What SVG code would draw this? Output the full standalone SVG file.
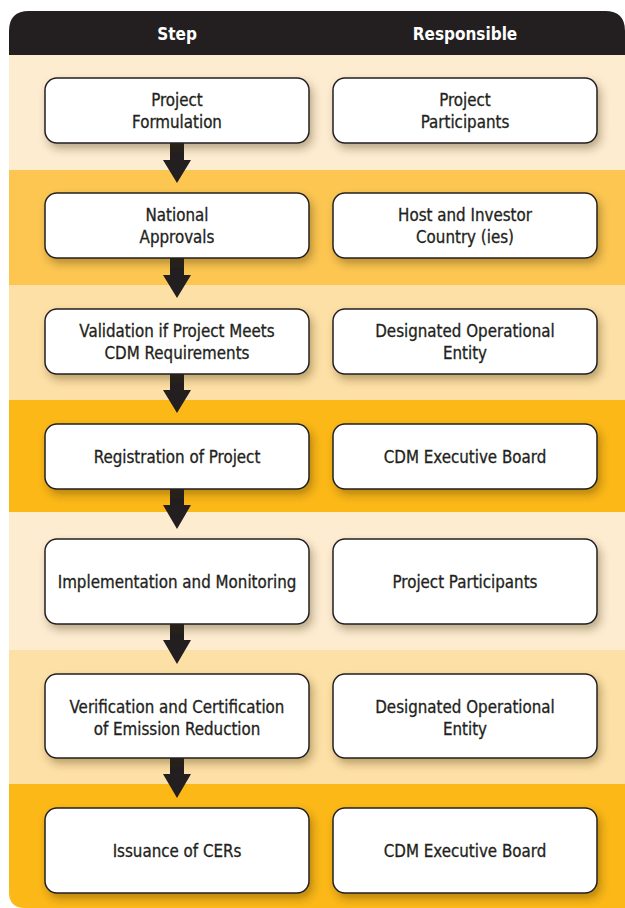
<svg xmlns="http://www.w3.org/2000/svg" width="625" height="908" viewBox="0 0 625 908">
<style>
.box{fill:#fff;stroke:#231f20;stroke-width:1.5;filter:url(#sh)}
.t{font-family:'DejaVu Sans Condensed','Liberation Sans Narrow','Liberation Sans',sans-serif;font-stretch:condensed;font-size:16.8px;fill:#231f20;stroke:#231f20;stroke-width:0.3;text-anchor:middle}
.h{font-family:'DejaVu Sans Condensed','Liberation Sans Narrow','Liberation Sans',sans-serif;font-stretch:condensed;font-size:17px;font-weight:bold;fill:#fff;text-anchor:middle}
.arr{fill:#231f20}
</style>
<defs>
<filter id="sh" x="-10%" y="-20%" width="130%" height="160%">
<feDropShadow dx="3" dy="5" stdDeviation="4" flood-color="#3a2a00" flood-opacity="0.35"/>
</filter>
</defs>
<rect width="625" height="908" fill="#fff"/>
<g id="bands">
<path d="M9,55 H625 V170 H9 Z" fill="#fdecd0"/>
<path d="M9,170 H625 V285 H9 Z" fill="#fcc651"/>
<path d="M9,285 H625 V400 H9 Z" fill="#fde0a5"/>
<path d="M9,400 H625 V512 H9 Z" fill="#fbb817"/>
<path d="M9,512 H625 V650 H9 Z" fill="#fdecd0"/>
<path d="M9,650 H625 V784 H9 Z" fill="#fde0a5"/>
<path d="M9,784 H625 V908 H25 Q9,908 9,892 Z" fill="#fbb817"/>
</g>
<g id="header">
<path d="M9,55 V31 Q9,11 29,11 H605 Q625,11 625,31 V55 Z" fill="#231f20"/>
<text class="h" x="177" y="40">Step</text>
<text class="h" x="465" y="40">Responsible</text>
</g>
<g id="connectors">
<path class="arr" d="M170,143 H184 V160 H191 L177,183 L163,160 H170 Z"/>
<path class="arr" d="M170,258 H184 V275 H191 L177,298 L163,275 H170 Z"/>
<path class="arr" d="M170,374 H184 V390 H191 L177,413 L163,390 H170 Z"/>
<path class="arr" d="M170,489 H184 V505 H191 L177,529 L163,505 H170 Z"/>
<path class="arr" d="M170,624 H184 V640 H191 L177,664 L163,640 H170 Z"/>
<path class="arr" d="M170,758 H184 V774 H191 L177,798 L163,774 H170 Z"/>
</g>
<g id="step1"><rect class="box" x="45" y="78" width="264" height="65" rx="12"/><text class="t" x="177" y="106">Project</text><text class="t" x="177" y="128">Formulation</text></g>
<g id="resp1"><rect class="box" x="333" y="78" width="264" height="65" rx="12"/><text class="t" x="465" y="106">Project</text><text class="t" x="465" y="128">Participants</text></g>
<g id="step2"><rect class="box" x="45" y="193" width="264" height="65" rx="12"/><text class="t" x="177" y="221">National</text><text class="t" x="177" y="243">Approvals</text></g>
<g id="resp2"><rect class="box" x="333" y="193" width="264" height="65" rx="12"/><text class="t" x="465" y="221">Host and Investor</text><text class="t" x="465" y="243">Country (ies)</text></g>
<g id="step3"><rect class="box" x="45" y="309" width="264" height="65" rx="12"/><text class="t" x="177" y="337">Validation if Project Meets</text><text class="t" x="177" y="359">CDM Requirements</text></g>
<g id="resp3"><rect class="box" x="333" y="309" width="264" height="65" rx="12"/><text class="t" x="465" y="337">Designated Operational</text><text class="t" x="465" y="359">Entity</text></g>
<g id="step4"><rect class="box" x="45" y="424" width="264" height="65" rx="12"/><text class="t" x="177" y="463">Registration of Project</text></g>
<g id="resp4"><rect class="box" x="333" y="424" width="264" height="65" rx="12"/><text class="t" x="465" y="463">CDM Executive Board</text></g>
<g id="step5"><rect class="box" x="45" y="539" width="264" height="85" rx="12"/><text class="t" x="177" y="588">Implementation and Monitoring</text></g>
<g id="resp5"><rect class="box" x="333" y="539" width="264" height="85" rx="12"/><text class="t" x="465" y="588">Project Participants</text></g>
<g id="step6"><rect class="box" x="45" y="674" width="264" height="84" rx="12"/><text class="t" x="177" y="713">Verification and Certification</text><text class="t" x="177" y="735">of Emission Reduction</text></g>
<g id="resp6"><rect class="box" x="333" y="674" width="264" height="84" rx="12"/><text class="t" x="465" y="713">Designated Operational</text><text class="t" x="465" y="735">Entity</text></g>
<g id="step7"><rect class="box" x="45" y="808" width="264" height="85" rx="12"/><text class="t" x="177" y="857">Issuance of CERs</text></g>
<g id="resp7"><rect class="box" x="333" y="808" width="264" height="85" rx="12"/><text class="t" x="465" y="857">CDM Executive Board</text></g>
</svg>
